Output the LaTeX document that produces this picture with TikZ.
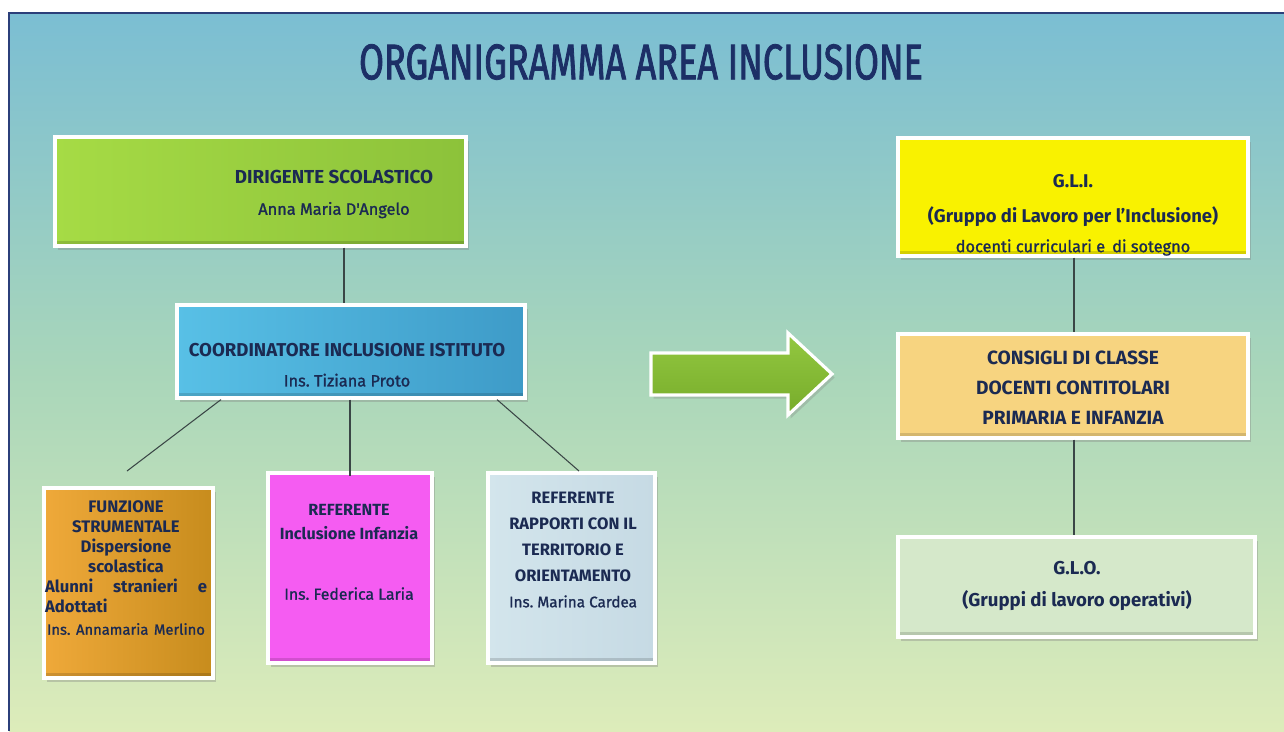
\documentclass[tikz,border=0pt]{standalone}
\usepackage{fontspec}
\setmainfont{Fira Sans}
\newfontfamily\titlefont{Fira Sans}[FakeStretch=0.72, FakeBold=1.6]
\newfontfamily\medfont{Fira Sans}[FakeBold=1.2]
\usetikzlibrary{shadows,calc}
\frenchspacing
\definecolor{navy}{HTML}{1B2A52}
\definecolor{titleblue}{HTML}{1C2F66}
\definecolor{framec}{HTML}{2B3F7A}
\definecolor{linec}{HTML}{3A4646}
\definecolor{bgtop}{HTML}{7BBED3}
\definecolor{bgmid}{HTML}{A9D6BA}
\definecolor{bgbot}{HTML}{DDECBA}
\definecolor{dirL}{HTML}{A6DB45}
\definecolor{dirR}{HTML}{8CC23A}
\definecolor{coordL}{HTML}{58C0E6}
\definecolor{coordR}{HTML}{3E9BC8}
\definecolor{funzL}{HTML}{EFA93A}
\definecolor{funzR}{HTML}{C78C1D}
\definecolor{magen}{HTML}{F55CF2}
\definecolor{rapL}{HTML}{D3E5EC}
\definecolor{rapR}{HTML}{C6DAE4}
\definecolor{yel}{HTML}{F9F200}
\definecolor{sand}{HTML}{F7D480}
\definecolor{pale}{HTML}{D5E8CA}
\definecolor{arrT}{HTML}{93C840}
\definecolor{arrB}{HTML}{77AC2B}
\newcommand\cardat[6]{\node[cardbox,#6,minimum width={(#4-#2)*0.02cm},minimum height={(#5-#3)*0.02cm}] (#1) at ({(#2+#4)/2},{(#3+#5)/2}) {};}
\newcommand\fs[2]{\fontsize{#1}{#2}\selectfont}
\tikzset{
  cardbox/.style={draw=white, line width=1.8pt, inner sep=0pt,
    drop shadow={opacity=0.35, shadow xshift=1.5pt, shadow yshift=-2pt},
    path picture={\fill[black,opacity=0.14] (path picture bounding box.south west) rectangle ([yshift=3pt]path picture bounding box.south east);}},
  lbl/.style={inner sep=0pt, align=center, text=navy},
  conn/.style={draw=linec, line width=0.6pt},
}
\begin{document}
\begin{tikzpicture}[x=0.02cm,y=-0.02cm]
\useasboundingbox (0,0) rectangle (1284,731);
% background
\fill[white] (0,0) rectangle (1284,731);
\fill[top color=bgtop, bottom color=bgbot, middle color=bgmid] (9,13) rectangle (1284,731);
\draw[framec, line width=1.3pt] (9,731) -- (9,13) -- (1284,13);
% title
\node[inner sep=0pt, text=titleblue, font=\titlefont\fs{28.5}{30}] (title) at (641,62) {ORGANIGRAMMA AREA INCLUSIONE};
% boxes
\cardat{dir}{55}{137}{466}{246}{left color=dirL, right color=dirR}
\cardat{coord}{177}{305}{525}{398}{left color=coordL, right color=coordR}
\cardat{funz}{44}{488}{213}{678}{left color=funzL, right color=funzR}
\cardat{refinf}{268}{473}{432}{663}{fill=magen}
\cardat{refrap}{488}{473}{655}{663}{left color=rapL, right color=rapR}
\cardat{gli}{898}{138}{1248}{256}{fill=yel}
\cardat{cons}{898}{334}{1248}{438}{fill=sand}
\cardat{glo}{898}{537}{1255}{637}{fill=pale}
% big arrow
\draw[white, line width=1.8pt, top color=arrT, bottom color=arrB,
  drop shadow={opacity=0.3, shadow xshift=1.5pt, shadow yshift=-2pt}]
  (651,353) -- (788,353) -- (788,333) -- (832,374) -- (788,415) -- (788,395) -- (651,395) -- cycle;
% labels
\node[lbl, font=\fs{10.7}{18}] (dirT) at (334,194)
  {\textbf{DIRIGENTE SCOLASTICO}\\{\medfont\fs{9.3}{18}Anna Maria D'Angelo}};
\node[lbl, font=\fs{10.6}{17}] (coordT) at (347,365)
  {\textbf{COORDINATORE INCLUSIONE ISTITUTO}\\{\medfont\fs{9.3}{17}Ins. Tiziana Proto}};
\node[lbl, text width=3.24cm, font=\fs{9.5}{11.3}\bfseries] (funzT) at (126,568)
  {FUNZIONE\\STRUMENTALE\\Dispersione\\scolastica\\
   \makebox[\linewidth]{Alunni\hfill stranieri\hfill e}\\\makebox[\linewidth][l]{Adottati}\\[1.5pt]
   \mbox{\medfont\mdseries\fs{8.4}{11.3}Ins. Annamaria Merlino}};
\node[lbl, font=\fs{9.2}{14}] (refinfT) at (349,552)
  {\textbf{REFERENTE}\\\textbf{Inclusione Infanzia}\\[20pt]{\medfont\fs{9}{14}Ins. Federica Laria}};
\node[lbl, font=\fs{9.4}{14.7}] (refrapT) at (573,550)
  {\textbf{REFERENTE}\\\textbf{RAPPORTI CON IL}\\\textbf{TERRITORIO E}\\\textbf{ORIENTAMENTO}\\{\medfont\fs{8.7}{14.7}Ins. Marina Cardea}};
\node[lbl, font=\fs{10.5}{19.8}] (gliT) at (1073,215)
  {\textbf{G.L.I.}\\\textbf{(Gruppo di Lavoro per l’Inclusione)}\\[-2.8pt]{\medfont\fs{9.3}{17}docenti curriculari e\, di sotegno}};
\node[lbl, font=\fs{10.9}{17}\bfseries] (consT) at (1073,388)
  {CONSIGLI DI CLASSE\\DOCENTI CONTITOLARI\\PRIMARIA E INFANZIA};
\node[lbl, font=\fs{10.6}{18}\bfseries] (gloT) at (1077,586)
  {G.L.O.\\(Gruppi di lavoro operativi)};
% connectors
\coordinate (x344) at (344,0);
\coordinate (x221) at (221,0);
\coordinate (x350) at (350,0);
\coordinate (x497) at (497,0);
\coordinate (x1074) at (1074,0);
\coordinate (e1) at (127,471);
\coordinate (e2) at (350,476);
\coordinate (e3) at (579,471);
\draw[conn] (dir.south -| x344) -- (coord.north -| x344);
\draw[conn] (coord.south -| x221) -- (e1);
\draw[conn] (coord.south -| x350) -- (e2);
\draw[conn] (coord.south -| x497) -- (e3);
\draw[conn] (gli.south -| x1074) -- (cons.north -| x1074);
\draw[conn] (cons.south -| x1074) -- (glo.north -| x1074);
\end{tikzpicture}
\end{document}
